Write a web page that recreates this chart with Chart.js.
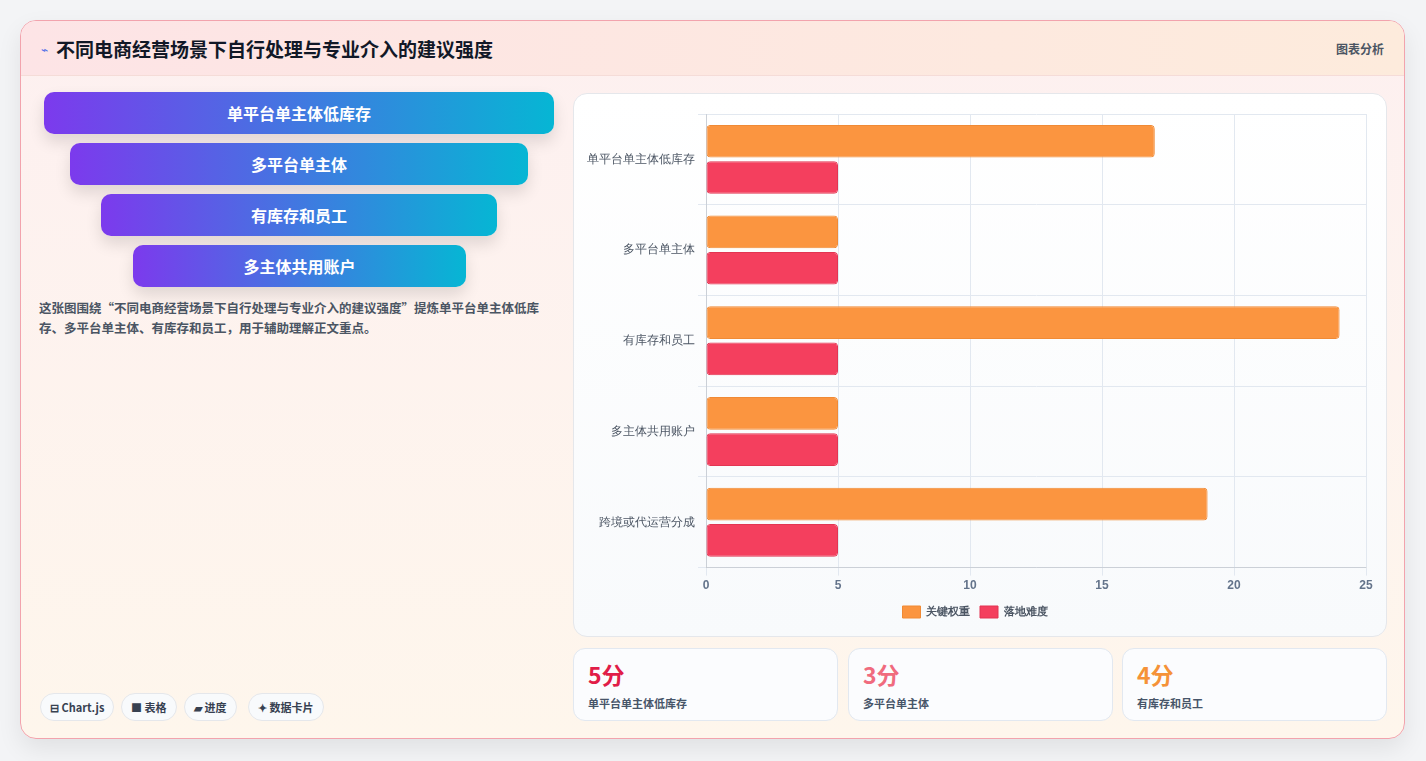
<!DOCTYPE html>
<html><head><meta charset="utf-8">
<script src="https://cdn.jsdelivr.net/npm/chart.js@4/dist/chart.umd.min.js"></script>
<style>
*{box-sizing:border-box;margin:0;padding:0}
body{width:1426px;height:761px;background:#f3f4f6;font-family:"Noto Sans CJK SC","Noto Sans",sans-serif;overflow:hidden}
.card{position:absolute;left:20px;top:20px;width:1385px;height:719px;border:1px solid #f2a3ad;border-radius:16px;background:linear-gradient(180deg,#fdf0f0,#fef6ec);box-shadow:0 10px 24px rgba(0,0,0,.08);overflow:hidden}
.head{height:55px;background:linear-gradient(90deg,#fde4e6,#fdebdc);border-bottom:1px solid #f5dcd8;display:flex;align-items:center;padding:0 20px}
.head h1{font-size:19px;font-weight:700;color:#111827;margin-left:8px}
.head .ic{color:#4f6ee8;font-size:12px}
.head .r{margin-left:auto;font-size:12px;font-weight:700;color:#4b5563}
.fun{position:absolute;height:42px;border-radius:10px;background:linear-gradient(90deg,#7c3aed,#06b6d4);color:#fff;font-weight:700;font-size:16px;display:flex;align-items:center;justify-content:center;box-shadow:0 8px 16px rgba(0,0,0,.12)}
.desc{position:absolute;left:18px;top:277px;width:515px;font-size:12.5px;line-height:20px;color:#4b5563;font-weight:700}
.chip{position:absolute;top:672px;height:28px;border:1px solid #e5e7eb;border-radius:14px;background:#f8fafc;font-size:11px;font-weight:700;color:#374151;display:flex;align-items:center;padding:0 9px}
.cc{position:absolute;left:552px;top:72px;width:814px;height:544px;border:1px solid #e5e7eb;border-radius:14px;background:linear-gradient(180deg,#fff,#f8fafc)}
.stat{position:absolute;top:627px;width:265px;height:73px;border:1px solid #e2e8f0;border-radius:12px;background:#fbfcfe;padding:10px 14px}
.stat b{font-size:23px;display:block;line-height:30px}
.stat span{font-size:11px;color:#475569;font-weight:700}
</style></head><body>
<div class="card">
<div class="head"><span class="ic">⌁</span><h1>不同电商经营场景下自行处理与专业介入的建议强度</h1><span class="r">图表分析</span></div>
<div class="fun" style="left:23px;top:71px;width:510px">单平台单主体低库存</div>
<div class="fun" style="left:49px;top:122px;width:458px">多平台单主体</div>
<div class="fun" style="left:80px;top:173px;width:396px">有库存和员工</div>
<div class="fun" style="left:112px;top:224px;width:333px">多主体共用账户</div>
<div class="desc">这张图围绕“不同电商经营场景下自行处理与专业介入的建议强度”提炼单平台单主体低库存、多平台单主体、有库存和员工，用于辅助理解正文重点。</div>
<div class="chip" style="left:19px">⊟ Chart.js</div>
<div class="chip" style="left:100px">■ 表格</div>
<div class="chip" style="left:163px">▰ 进度</div>
<div class="chip" style="left:227px">✦ 数据卡片</div>
<div class="cc"><canvas id="c" width="814" height="544"></canvas></div>
<div class="stat" style="left:552px"><b style="color:#e11d48">5分</b><span>单平台单主体低库存</span></div>
<div class="stat" style="left:827px"><b style="color:#f06b7e">3分</b><span>多平台单主体</span></div>
<div class="stat" style="left:1101px"><b style="color:#f59238">4分</b><span>有库存和员工</span></div>
</div>
<script>
const categories = ['单平台单主体低库存','多平台单主体','有库存和员工','多主体共用账户','跨境或代运营分成'];
const keyWeight = [17, 5, 24, 5, 19];
const difficulty = [5, 5, 5, 5, 5];
const xTicks = [0, 5, 10, 15, 20, 25];

new Chart(document.getElementById('c'), {
  type: 'bar',
  data: {
    labels: categories,
    datasets: [
      { label: '关键权重', data: keyWeight, backgroundColor: '#fb9540', borderColor: '#f08a35', borderWidth: 1, borderRadius: 4, borderSkipped: false, categoryPercentage: 0.8, barPercentage: 0.9 },
      { label: '落地难度', data: difficulty, backgroundColor: '#f43f5e', borderColor: '#e23552', borderWidth: 1, borderRadius: 4, borderSkipped: false, categoryPercentage: 0.8, barPercentage: 0.9 }
    ]
  },
  options: {
    indexAxis: 'y',
    responsive: false,
    animation: false,
    layout: { padding: { left: 10, right: 22, top: 20, bottom: 10 } },
    plugins: {
      legend: { position: 'bottom', labels: { boxWidth: 18, boxHeight: 12, font: { size: 11, weight: 'bold' }, color: '#4b5563' } }
    },
    scales: {
      x: {
        min: xTicks[0], max: xTicks[xTicks.length - 1],
        afterBuildTicks: a => { a.ticks = xTicks.map(v => ({ value: v })); },
        ticks: { color: '#64748b', font: { size: 12, weight: 'bold' } },
        grid: { color: '#e2e8f0' }
      },
      y: {
        ticks: { color: '#4b5563', font: { size: 12 } },
        grid: { color: '#e2e8f0' }
      }
    }
  }
});
</script>
</body></html>
